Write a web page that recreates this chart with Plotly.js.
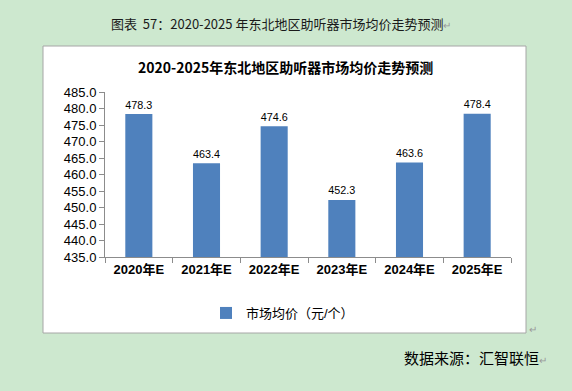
<!DOCTYPE html>
<html><head><meta charset="utf-8">
<script src="https://cdn.plot.ly/plotly-3.0.1.min.js"></script>
<style>html,body{margin:0;padding:0;background:#cde8cf;}#chart{width:572px;height:391px;}</style>
</head><body><div id="chart"></div>
<script>
const categories = ["2020年E","2021年E","2022年E","2023年E","2024年E","2025年E"];
const prices = [478.3, 463.4, 474.6, 452.3, 463.6, 478.4];
const seriesName = "市场均价（元/个）";
const yTicks = [435,440,445,450,455,460,465,470,475,480,485];

const W = 572, H = 391;
const L = 105, R = 61, T = 92, B = 134;
const pw = W - L - R, ph = H - T - B;
const px = x => (x - L) / pw;
const py = y => (H - B - y) / ph;
const font = '"Liberation Sans", Arial, "Noto Sans CJK SC", sans-serif';

const trace = {
  type: 'bar', x: categories, y: prices, name: seriesName,
  marker: {color: '#4f81bd'},
  text: prices.map(v => v.toFixed(1)), textposition: 'outside',
  textfont: {family: font, size: 13, color: '#000'},
  cliponaxis: false, showlegend: true
};

const layout = {
  width: W, height: H,
  margin: {l: L, r: R, t: T, b: B, pad: 0},
  paper_bgcolor: '#cde8cf', plot_bgcolor: 'rgba(0,0,0,0)',
  bargap: 0.6,
  font: {family: font, color: '#000'},
  xaxis: {
    showline: true, linecolor: '#8c8c8c', linewidth: 1,
    ticks: 'outside', tickson: 'boundaries', ticklen: 5, tickcolor: '#8c8c8c',
    tickvals: categories, ticktext: categories.map(c => '<b>' + c + '</b>'),
    tickfont: {family: font, size: 13, color: '#000'}, showgrid: false
  },
  yaxis: {
    range: [435, 485], tickvals: yTicks, ticktext: yTicks.map(v => v.toFixed(1)),
    showline: true, linecolor: '#8c8c8c', linewidth: 1,
    ticks: 'outside', ticklen: 5, tickcolor: '#8c8c8c',
    tickfont: {family: font, size: 13, color: '#000'}, showgrid: false, zeroline: false
  },
  legend: {
    orientation: 'h', x: px(206), xanchor: 'left', y: py(313), yanchor: 'middle',
    font: {family: font, size: 13, color: '#000'}, bgcolor: 'rgba(0,0,0,0)', itemwidth: 30
  },
  shapes: [{
    type: 'rect', xref: 'paper', yref: 'paper', layer: 'below',
    x0: px(43), x1: px(526), y0: py(333), y1: py(46),
    fillcolor: '#ffffff', line: {color: '#a6a6a6', width: 1}
  }],
  annotations: [
    {xref: 'paper', yref: 'paper', x: px(281), y: py(23), xanchor: 'center', yanchor: 'middle',
     text: '图表  57：2020-2025 年东北地区助听器市场均价走势预测<span style="color:#999;font-size:10px">↵</span>', showarrow: false,
     font: {family: '"Noto Sans CJK SC", sans-serif', size: 13, color: '#1a1a1a'}},
    {xref: 'paper', yref: 'paper', x: px(285), y: py(67), xanchor: 'center', yanchor: 'middle',
     text: '<b>2020-2025年东北地区助听器市场均价走势预测</b>', showarrow: false,
     font: {family: '"Noto Sans CJK SC", sans-serif', size: 14, color: '#000'}},
    {xref: 'paper', yref: 'paper', x: px(402), y: py(357), xanchor: 'left', yanchor: 'middle',
     text: '数据来源：汇智联恒<span style="color:#999;font-size:10px">↵</span>', showarrow: false,
     font: {family: '"Noto Sans CJK SC", sans-serif', size: 15, color: '#000'}},
    {xref: 'paper', yref: 'paper', x: px(527), y: py(329), xanchor: 'left', yanchor: 'middle',
     text: '↵', showarrow: false,
     font: {family: font, size: 10, color: '#999'}}
  ]
};

Plotly.newPlot('chart', [trace], layout, {displayModeBar: false, staticPlot: true});
</script></body></html>
